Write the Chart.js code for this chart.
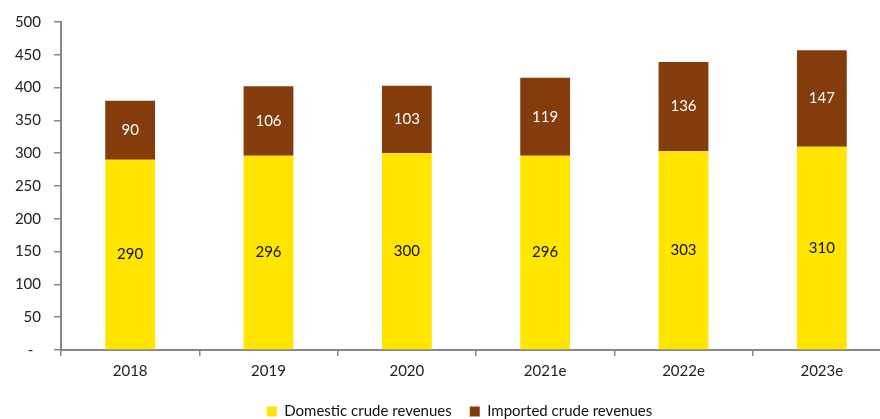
<!DOCTYPE html>
<html>
<head>
<meta charset="utf-8">
<script src="https://cdn.jsdelivr.net/npm/chart.js@4"></script>
<style>
  html, body { margin: 0; padding: 0; background: #fff; overflow: hidden; }
  #wrap { position: relative; width: 892px; height: 429px; }
</style>
</head>
<body>
<div id="wrap"><canvas id="chart"></canvas></div>
<script>
// Crude revenues by year
const years = ['2018', '2019', '2020', '2021e', '2022e', '2023e'];
const domestic = [290, 296, 300, 296, 303, 310];
const imported = [90, 106, 103, 119, 136, 147];

const AXIS = '#888888';
const FONT = 'Lato, "DejaVu Sans", sans-serif';

// Draw the value inside each bar segment
const segmentLabels = {
    id: 'segmentLabels',
    afterDatasetsDraw(chart) {
        const ctx = chart.ctx;
        ctx.save();
        ctx.font = '15px ' + FONT;
        ctx.textAlign = 'center';
        ctx.textBaseline = 'middle';
        chart.data.datasets.forEach((ds, i) => {
            const meta = chart.getDatasetMeta(i);
            ctx.fillStyle = ds.labelColor;
            meta.data.forEach((bar, j) => {
                const mid = (bar.y + bar.base) / 2;
                ctx.fillText(String(ds.data[j]), bar.x, mid);
            });
        });
        ctx.restore();
    }
};

// The legend in the original sits a little right of the page centre
const legendShift = {
    id: 'legendShift',
    afterLayout(chart) {
        if (chart.legend) {
            chart.legend.left += 14;
            chart.legend.right += 14;
        }
    }
};

new Chart(document.getElementById('chart'), {
    type: 'bar',
    data: {
        labels: years,
        datasets: [
            {
                label: 'Domestic crude revenues',
                data: domestic,
                backgroundColor: '#FFE500',
                labelColor: '#111111',
                barPercentage: 0.36,
                categoryPercentage: 1
            },
            {
                label: 'Imported crude revenues',
                data: imported,
                backgroundColor: '#843C0C',
                labelColor: '#ffffff',
                barPercentage: 0.36,
                categoryPercentage: 1
            }
        ]
    },
    options: {
        responsive: true,
        maintainAspectRatio: false,
        animation: false,
        devicePixelRatio: 1,
        layout: { padding: { left: 0, right: 1, top: 20, bottom: 0 } },
        scales: {
            x: {
                stacked: true,
                grid: {
                    offset: true,
                    drawOnChartArea: false,
                    tickLength: 6,
                    color: AXIS,
                    lineWidth: 1.5
                },
                border: { color: AXIS, width: 2 },
                ticks: { color: '#222', font: { family: FONT, size: 15 }, padding: 6 },
                afterFit(scale) { scale.height = 36; }
            },
            y: {
                stacked: true,
                min: 0,
                max: 500,
                grid: {
                    drawOnChartArea: false,
                    tickLength: 7,
                    color: AXIS,
                    lineWidth: 1.5
                },
                border: { color: AXIS, width: 2 },
                ticks: {
                    stepSize: 50,
                    color: '#222',
                    padding: 13,
                    font: { family: FONT, size: 15 },
                    callback: v => v === 0 ? '-  ' : String(v)
                },
                afterFit(scale) { scale.width = 61; }
            }
        },
        plugins: {
            legend: {
                position: 'bottom',
                labels: {
                    boxWidth: 10,
                    boxHeight: 10,
                    padding: 18,
                    color: '#111',
                    font: { family: FONT, size: 15 }
                }
            },
            tooltip: { enabled: false }
        }
    },
    plugins: [segmentLabels, legendShift]
});
</script>
</body>
</html>
